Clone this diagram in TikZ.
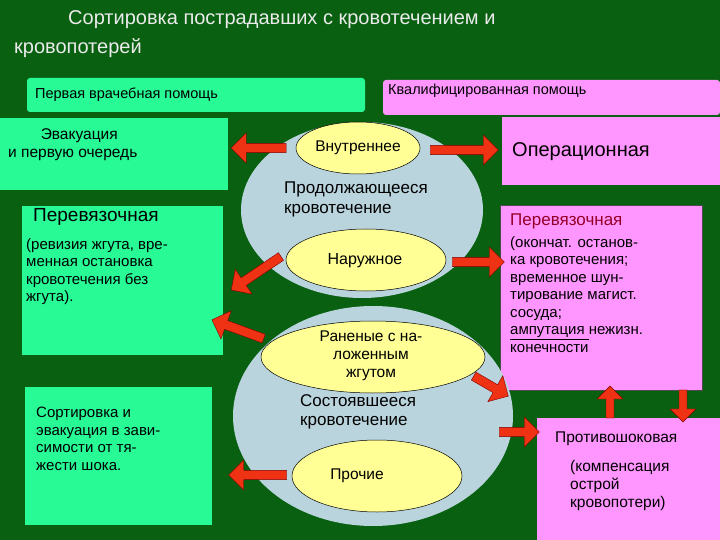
\documentclass[tikz,border=0pt]{standalone}
\usepackage{fontspec}
\setmainfont{Liberation Sans}
\usetikzlibrary{shapes.arrows}
\definecolor{bg}{RGB}{8,96,16}
\definecolor{mint}{RGB}{40,250,150}
\definecolor{pinkb}{RGB}{255,150,255}
\definecolor{blueell}{RGB}{186,212,222}
\definecolor{yell}{RGB}{255,255,150}
\definecolor{redar}{RGB}{240,50,20}
\definecolor{darkred}{RGB}{150,0,40}
\tikzset{
 gbox/.style={fill=mint,draw=none,inner sep=0},
 pbox/.style={fill=pinkb,draw=none,inner sep=0},
 txt/.style={inner sep=0,align=left,anchor=north west,text=black},
 bell/.style={ellipse,fill=blueell,draw=none},
 yel/.style={fill=yell,draw=black,line width=0.5pt},
 arr/.style={single arrow,fill=redar,draw=red!50!black,line width=0.4pt,minimum height=#1,single arrow head extend=5pt,minimum width=30pt,inner sep=2pt,anchor=center},
 fs/.style={font=\pgfmathsetlengthmacro\fsb{#1*1.17}\fontsize{#1}{\fsb}\selectfont}
}
\begin{document}
\begin{tikzpicture}[x=1pt,y=-1pt]
\useasboundingbox (0,0) rectangle (720,540);
\fill[bg] (0,0) rectangle (720,540);
\node[txt,fs=20,text=white!92!black] (t1) at (68,10) {Сортировка пострадавших с кровотечением и};
\node[txt,fs=20,text=white!92!black] (t2) at (14,38) {кровопотерей};
% top boxes
\fill[mint,rounded corners=3pt] (27,78) rectangle (365,112);
\node[txt,fs=14.5] (h1) at (35,88) {Первая врачебная помощь};
\fill[pinkb,rounded corners=3pt] (383,80) rectangle (720,115);
\node[txt,fs=14.5] (h2) at (388,84) {Квалифицированная помощь};
% left boxes
\fill[mint] (0,118) rectangle (228,190);
\node[txt,fs=15.5,align=center] (l1) at (8,128) {\ \ \ Эвакуация\\и первую очередь};
\fill[mint] (22,206) rectangle (223,355);
\node[txt,fs=19] (l2) at (33,208) {Перевязочная};
\node[txt,fs=15] (l2b) at (26,238) {(ревизия жгута, вре-\\менная остановка\\кровотечения без\\ жгута).};
\fill[mint] (25,387) rectangle (212,525);
\node[txt,fs=15] (l3) at (36,407) {Сортировка и\\эвакуация в зави-\\симости от тя-\\жести шока.};
% right boxes
\fill[pinkb] (502,117) rectangle (720,185);
\node[txt,fs=20] (r1) at (512,142) {Операционная};
\fill[pinkb,draw=black!70,line width=0.6pt] (500,205) rectangle (702,390);
\node[txt,fs=17,text=darkred] (r2) at (510,214) {Перевязочная};
\node[txt,fs=15] (r2b) at (510,236) {(окончат. останов-\\ка кровотечения;\\временное шун-\\тирование магист.\\сосуда;\\\underline{ампутация }нежизн.\\конечности};
\fill[pinkb] (537,418) rectangle (720,540);
\node[txt,fs=15.5] (r3) at (555,432) {Противошоковая};
\node[txt,fs=15.5] (r3b) at (570,460) {(компенсация\\острой\\кровопотери)};
% ellipses
\fill[blueell] (362,210) ellipse [x radius=121,y radius=88];
\fill[blueell] (373,416) ellipse [x radius=140,y radius=110];
\filldraw[yel] (358,148) ellipse [x radius=62,y radius=26];
\node[fs=15.5,inner sep=0] (e1) at (358,148) {Внутреннее};
\node[txt,fs=17] (m1) at (284,182) {Продолжающееся\\кровотечение};
\filldraw[yel] (366,260) ellipse [x radius=80,y radius=31];
\node[fs=16,inner sep=0] (e2) at (365,261) {Наружное};
\filldraw[yel] (373,357) ellipse [x radius=112,y radius=36];
\node[fs=15.5,inner sep=0,align=center] (e3) at (371,356) {Раненые с на-\\ложенным\\жгутом};
\node[txt,fs=17] (m2) at (300,394) {Состоявшееся\\кровотечение};
\filldraw[yel] (377,476) ellipse [x radius=85,y radius=36];
\node[fs=15.5,inner sep=0] (e4) at (357,476) {Прочие};
% arrows
\node[arr=55pt,rotate=180] (a1) at (261,148) {};
\node[arr=68pt] (a2) at (462,150) {};
\node[arr=60pt,rotate=214] (a3) at (258,272) {};
\node[arr=52pt] (a4) at (476,262) {};
\node[arr=55pt,rotate=160] (a5) at (240,330) {};
\node[arr=40pt,rotate=-30] (a6) at (489,385) {};
\node[arr=40pt] (a7) at (517,432) {};
\node[arr=58pt,rotate=180] (a8) at (260,475) {};
\node[arr=32pt,rotate=90,minimum width=26pt] (a9) at (610,404) {};
\node[arr=32pt,rotate=-90,minimum width=26pt] (a10) at (683,404) {};
\end{tikzpicture}
\end{document}
